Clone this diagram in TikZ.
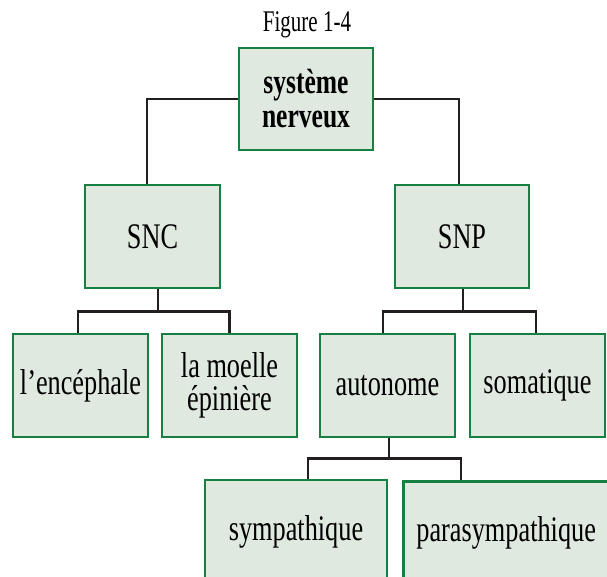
\documentclass[tikz,border=0pt]{standalone}
\usepackage{fontspec}
\setmainfont{Liberation Serif}[FakeStretch=0.73]
\newfontfamily\captionfont{Liberation Serif}[FakeStretch=0.7]
\definecolor{boxfill}{RGB}{223,233,224}
\definecolor{boxedge}{RGB}{22,128,66}
\definecolor{wire}{RGB}{35,31,32}
\tikzset{
  box/.style={draw=boxedge, fill=boxfill, line width=2.8pt, rectangle,
    minimum width=135pt, minimum height=103pt, inner sep=0pt, align=center,
    font=\fontsize{36}{33}\selectfont, text=black},
  link/.style={draw=wire, line width=2.6pt},
}
\begin{document}
\begin{tikzpicture}[x=1pt, y=-1pt]
  \useasboundingbox (0,0) rectangle (607,577);
  \clip (0,0) rectangle (607,577);

  % title
  \node[font=\captionfont\fontsize{30}{30}\selectfont] (title) at (307,25) {Figure 1-4};

  % nodes
  \node[box, minimum width=134pt, minimum height=102pt,
        font=\bfseries\fontsize{35}{34}\selectfont] (root) at (306,99) {système\\nerveux};
  \node[box] (snc) at (152.5,236.5) {SNC};
  \node[box, minimum width=134pt] (snp) at (462,236.5) {SNP};
  \node[box] (enc) at (80.5,385.5) {l’encéphale};
  \node[box] (moelle) at (229.5,385.5) {la moelle\\épinière};
  \node[box] (auto) at (387.5,385.5) {autonome};
  \node[box] (soma) at (537.5,385.5) {somatique};
  \node[box, minimum width=182pt] (symp) at (296,531.5) {sympathique};
  \node[box, anchor=north west, minimum width=0pt, text width=192pt, align=left,
        inner xsep=13pt, inner ysep=0pt, minimum height=103pt] (para) at (402,480) {parasympathique};

  % connectors
  \draw[link] (root.west) -| ([xshift=-5.5pt]snc.north);
  \draw[link] (root.east) -| ([xshift=-3pt]snp.north);

  \draw[link] ([xshift=5.5pt]snc.south) -- ([xshift=5.5pt,yshift=-22pt]snc.south);
  \draw[link] ([xshift=-2.5pt]enc.north) |- ([yshift=-22pt]snc.south) -| (moelle.north);

  \draw[link] ([xshift=1pt]snp.south) -- ([xshift=1pt,yshift=-22pt]snp.south);
  \draw[link] ([xshift=-4.5pt]auto.north) |- ([yshift=-22pt]snp.south) -| ([xshift=-1.5pt]soma.north);

  \draw[link] ([xshift=1.5pt]auto.south) -- ([xshift=1.5pt,yshift=-20pt]auto.south);
  \draw[link] ([xshift=12pt]symp.north) |- ([yshift=-20pt]auto.south) -| ([xshift=59pt]para.north west);
\end{tikzpicture}
\end{document}
